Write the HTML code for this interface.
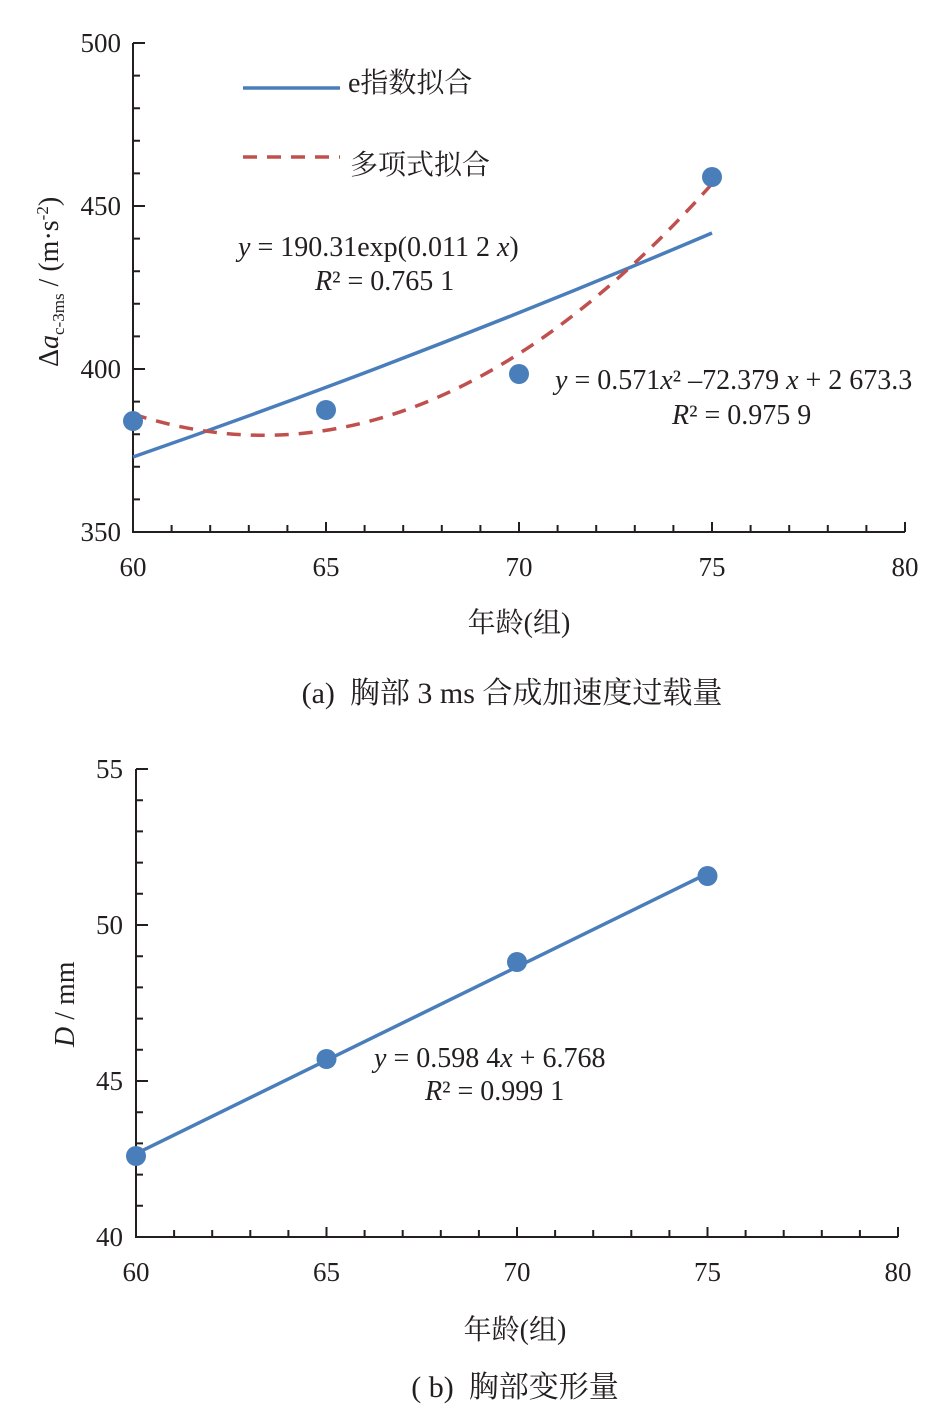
<!DOCTYPE html>
<html><head><meta charset="utf-8"><style>
body{margin:0;background:#fff}
svg{display:block}
text{font-family:"Liberation Serif","Times New Roman","DejaVu Serif","Noto Serif CJK SC",serif;fill:#231f20}
</style></head><body>
<svg width="948" height="1420" viewBox="0 0 948 1420" xmlns="http://www.w3.org/2000/svg" font-family="Liberation Serif, Noto Serif CJK SC, serif">
<g stroke="#231f20" stroke-width="2" fill="none">
<path d="M133 43V532H905"/>
<path d="M133 43h12M133 75.6h7M133 108.2h7M133 140.8h7M133 173.4h7M133 206h12M133 238.6h7M133 271.2h7M133 303.8h7M133 336.4h7M133 369h12M133 401.6h7M133 434.2h7M133 466.8h7M133 499.4h7"/>
<path d="M171.6 532v-7M210.2 532v-7M248.8 532v-7M287.4 532v-7M326 532v-10M364.6 532v-7M403.2 532v-7M441.8 532v-7M480.4 532v-7M519 532v-10M557.6 532v-7M596.2 532v-7M634.8 532v-7M673.4 532v-7M712 532v-10M750.6 532v-7M789.2 532v-7M827.8 532v-7M866.4 532v-7M905 532v-10"/>
<path d="M136 769V1237H898"/>
<path d="M136 769h12M136 800.2h7M136 831.4h7M136 862.6h7M136 893.8h7M136 925h12M136 956.2h7M136 987.4h7M136 1018.6h7M136 1049.8h7M136 1081h12M136 1112.2h7M136 1143.4h7M136 1174.6h7M136 1205.8h7"/>
<path d="M174.1 1237v-7M212.2 1237v-7M250.3 1237v-7M288.4 1237v-7M326.5 1237v-10M364.6 1237v-7M402.7 1237v-7M440.8 1237v-7M478.9 1237v-7M517 1237v-10M555.1 1237v-7M593.2 1237v-7M631.3 1237v-7M669.4 1237v-7M707.5 1237v-10M745.6 1237v-7M783.7 1237v-7M821.8 1237v-7M859.9 1237v-7M898 1237v-10"/>
</g>
<path d="M133 457 Q422.5 356.3 712 233" stroke="#4a7ebb" stroke-width="3.5" fill="none"/>
<path d="M133 414 Q422.5 508.4 712 183.8" stroke="#c0504d" stroke-width="3.5" fill="none" stroke-dasharray="14 10"/>
<g fill="#4a7ebb">
<circle cx="133" cy="421" r="10"/><circle cx="326" cy="410" r="10"/><circle cx="519" cy="374" r="10"/><circle cx="712" cy="177" r="10"/>
</g>
<line x1="243" y1="88" x2="340" y2="88" stroke="#4a7ebb" stroke-width="3.5"/>
<text x="348" y="92" font-size="28">e指数拟合</text>
<line x1="243" y1="157" x2="340" y2="157" stroke="#c0504d" stroke-width="3.5" stroke-dasharray="14 10"/>
<text x="350" y="174" font-size="28">多项式拟合</text>
<g font-size="27" text-anchor="end">
<text x="121" y="52">500</text><text x="121" y="215">450</text><text x="121" y="378">400</text><text x="121" y="541">350</text>
</g>
<g font-size="27" text-anchor="middle">
<text x="133" y="576">60</text><text x="326" y="576">65</text><text x="519" y="576">70</text><text x="712" y="576">75</text><text x="905" y="576">80</text>
<text x="519" y="632" font-size="28">年龄(组)</text>
<text x="512" y="703" font-size="30" xml:space="preserve">(a)  胸部 3 ms 合成加速度过载量</text>
</g>
<text font-size="28" transform="translate(58 367) rotate(-90)">Δ<tspan font-style="italic">a</tspan><tspan font-size="17" dy="6">c-3ms</tspan><tspan dy="-6"> / (m·s</tspan><tspan font-size="17" dy="-10">-2</tspan><tspan dy="10">)</tspan></text>
<text x="238" y="256" font-size="28"><tspan font-style="italic">y</tspan> = 190.31exp(0.011 2 <tspan font-style="italic">x</tspan>)</text>
<text x="315" y="290" font-size="28"><tspan font-style="italic">R</tspan>² = 0.765 1</text>
<text x="555" y="389" font-size="28"><tspan font-style="italic">y</tspan> = 0.571<tspan font-style="italic">x</tspan>² –72.379 <tspan font-style="italic">x</tspan> + 2 673.3</text>
<text x="672" y="424" font-size="28"><tspan font-style="italic">R</tspan>² = 0.975 9</text>
<line x1="136" y1="1153.7" x2="707.5" y2="873.5" stroke="#4a7ebb" stroke-width="3.5"/>
<g fill="#4a7ebb">
<circle cx="136" cy="1156" r="10"/><circle cx="326.5" cy="1059" r="10"/><circle cx="517" cy="962" r="10"/><circle cx="707.5" cy="876" r="10"/>
</g>
<g font-size="27" text-anchor="end">
<text x="123" y="778">55</text><text x="123" y="934">50</text><text x="123" y="1090">45</text><text x="123" y="1246">40</text>
</g>
<g font-size="27" text-anchor="middle">
<text x="136" y="1281">60</text><text x="326.5" y="1281">65</text><text x="517" y="1281">70</text><text x="707.5" y="1281">75</text><text x="898" y="1281">80</text>
<text x="515" y="1339" font-size="28">年龄(组)</text>
<text x="515" y="1397" font-size="30" xml:space="preserve">( b)  胸部变形量</text>
</g>
<text font-size="28" transform="translate(74 1047) rotate(-90)"><tspan font-style="italic">D</tspan> / mm</text>
<text x="374" y="1067" font-size="28"><tspan font-style="italic">y</tspan> = 0.598 4<tspan font-style="italic">x</tspan> + 6.768</text>
<text x="425" y="1100" font-size="28"><tspan font-style="italic">R</tspan>² = 0.999 1</text>
</svg>
</body></html>
